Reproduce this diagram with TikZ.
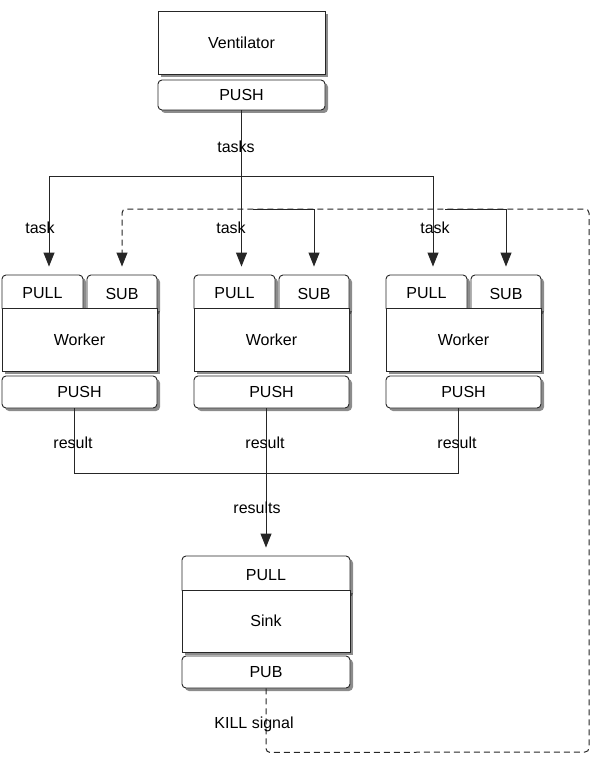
\documentclass[tikz,border=0pt]{standalone}
\usepackage{fontspec}
\setmainfont{Liberation Sans}
\usetikzlibrary{arrows.meta, shadows, calc}
\tikzset{
    my-shadow/.style={
      drop shadow={shadow xshift=3pt, shadow yshift=-3pt, fill=black, opacity=.45}
    },
    my-box/.style={
      draw=black!85, fill=white, line width=.9pt, inner sep=0pt, my-shadow
    },
    my-port/.style={
      my-box, rounded corners=4pt
    },
    my-wire/.style={
      draw=black!85, line width=1pt
    },
    my-arrow/.style={
      my-wire, -{Triangle[length=14pt, width=11pt]}, shorten >=8pt
    },
    my-kill/.style={
      my-arrow, dash pattern=on 6pt off 4pt, rounded corners=4pt
    },
    my-label/.style={
      anchor=base, inner sep=0pt
    },
}

\begin{document}
\begin{tikzpicture}[x=1pt, y=-1pt, font=\fontsize{16}{19}\selectfont]

        \useasboundingbox (0,0) rectangle (591,765);

        % VENTILATOR
        \node[my-box,  minimum width=167pt, minimum height=63pt] (VENT)     at (241.5, 42.5) {Ventilator};
        \node[my-port, minimum width=167pt, minimum height=30pt] (VENTPUSH) at (241.5, 95)   {PUSH};

        % WORKER 1
        \node[my-port, minimum width=81pt,  minimum height=37pt] (PULL1) at (42.5, 293.5) {PULL};
        \node[my-port, minimum width=70pt,  minimum height=37pt] (SUB1)  at (122, 293.5)  {SUB};
        \node[my-box,  minimum width=155pt, minimum height=63pt] (WORK1) at (79.5, 339.5) {Worker};
        \node[my-port, minimum width=155pt, minimum height=32pt] (PUSH1) at (79.5, 392)   {PUSH};

        % WORKER 2
        \node[my-port, minimum width=81pt,  minimum height=37pt] (PULL2) at (234.5, 293.5) {PULL};
        \node[my-port, minimum width=70pt,  minimum height=37pt] (SUB2)  at (314, 293.5)   {SUB};
        \node[my-box,  minimum width=155pt, minimum height=63pt] (WORK2) at (271.5, 339.5) {Worker};
        \node[my-port, minimum width=155pt, minimum height=32pt] (PUSH2) at (271.5, 392)   {PUSH};

        % WORKER 3
        \node[my-port, minimum width=81pt,  minimum height=37pt] (PULL3) at (426.5, 293.5) {PULL};
        \node[my-port, minimum width=70pt,  minimum height=37pt] (SUB3)  at (506, 293.5)   {SUB};
        \node[my-box,  minimum width=155pt, minimum height=63pt] (WORK3) at (463.5, 339.5) {Worker};
        \node[my-port, minimum width=155pt, minimum height=32pt] (PUSH3) at (463.5, 392)   {PUSH};

        % SINK
        \node[my-port, minimum width=168pt, minimum height=38pt] (SINKPULL) at (266, 575) {PULL};
        \node[my-box,  minimum width=168pt, minimum height=62pt] (SINK)     at (266, 621) {Sink};
        \node[my-port, minimum width=168pt, minimum height=32pt] (SINKPUB)  at (266, 672) {PUB};

        % TASK WIRES AND CONNECTOR POINTS
        \coordinate (TASKS) at ($(VENTPUSH.south) + (0, 66)$);
        \coordinate (TASK1) at (49, 176);
        \coordinate (TASK3) at (433, 176);
        \draw[my-wire]  (VENTPUSH.south) -- (TASKS);
        \draw[my-wire]  (TASK1) -- (TASK3);
        \draw[my-arrow] (TASK1) -- (TASK1 |- PULL1.north);
        \draw[my-arrow] (TASKS) -- (TASKS |- PULL2.north);
        \draw[my-arrow] (TASK3) -- (TASK3 |- PULL3.north);

        % KILL SIGNAL WIRES
        \coordinate (KILLB) at ($(SINKPUB.south) + (0, 64)$);
        \coordinate (KILLR) at (589, 752);
        \coordinate (KILLT) at (589, 209);
        \coordinate (KILL1) at (122, 209);
        \coordinate (KILL2) at (253, 209);
        \coordinate (KILL3) at (445, 209);
        \draw[my-kill]  (SINKPUB.south) -- (KILLB) -- (KILLR) -- (KILLT) -- (KILL1) -- (KILL1 |- SUB1.north);
        \draw[my-arrow] (KILL2) -| (SUB2.north);
        \draw[my-arrow] (KILL3) -| (SUB3.north);

        % RESULT WIRES AND CONNECTOR POINTS
        \coordinate (RES1) at ($(PUSH1.south) + (-5.5, 65)$);
        \coordinate (RES2) at ($(PUSH2.south) + (-5.5, 65)$);
        \coordinate (RES3) at ($(PUSH3.south) + (-5.5, 65)$);
        \draw[my-wire]  (PUSH1.south -| RES1) -- (RES1) -- (RES3) -- (PUSH3.south -| RES3);
        \draw[my-wire]  (PUSH2.south -| RES2) -- (RES2);
        \draw[my-arrow] (RES2) -- (RES2 |- SINKPULL.north);

        % LABELS
        \node[my-label] (TASKSL) at (236, 152) {tasks};
        \node[my-label] (TASKL1) at (40, 233)  {task};
        \node[my-label] (TASKL2) at (231, 233) {task};
        \node[my-label] (TASKL3) at (435, 233) {task};
        \node[my-label] (RESL1)  at (73, 448)  {result};
        \node[my-label] (RESL2)  at (265, 448) {result};
        \node[my-label] (RESL3)  at (457, 448) {result};
        \node[my-label] (RESSL)  at (257, 513) {results};
        \node[my-label] (KILLL)  at (254, 728) {KILL signal};

    \end{tikzpicture}
\end{document}
